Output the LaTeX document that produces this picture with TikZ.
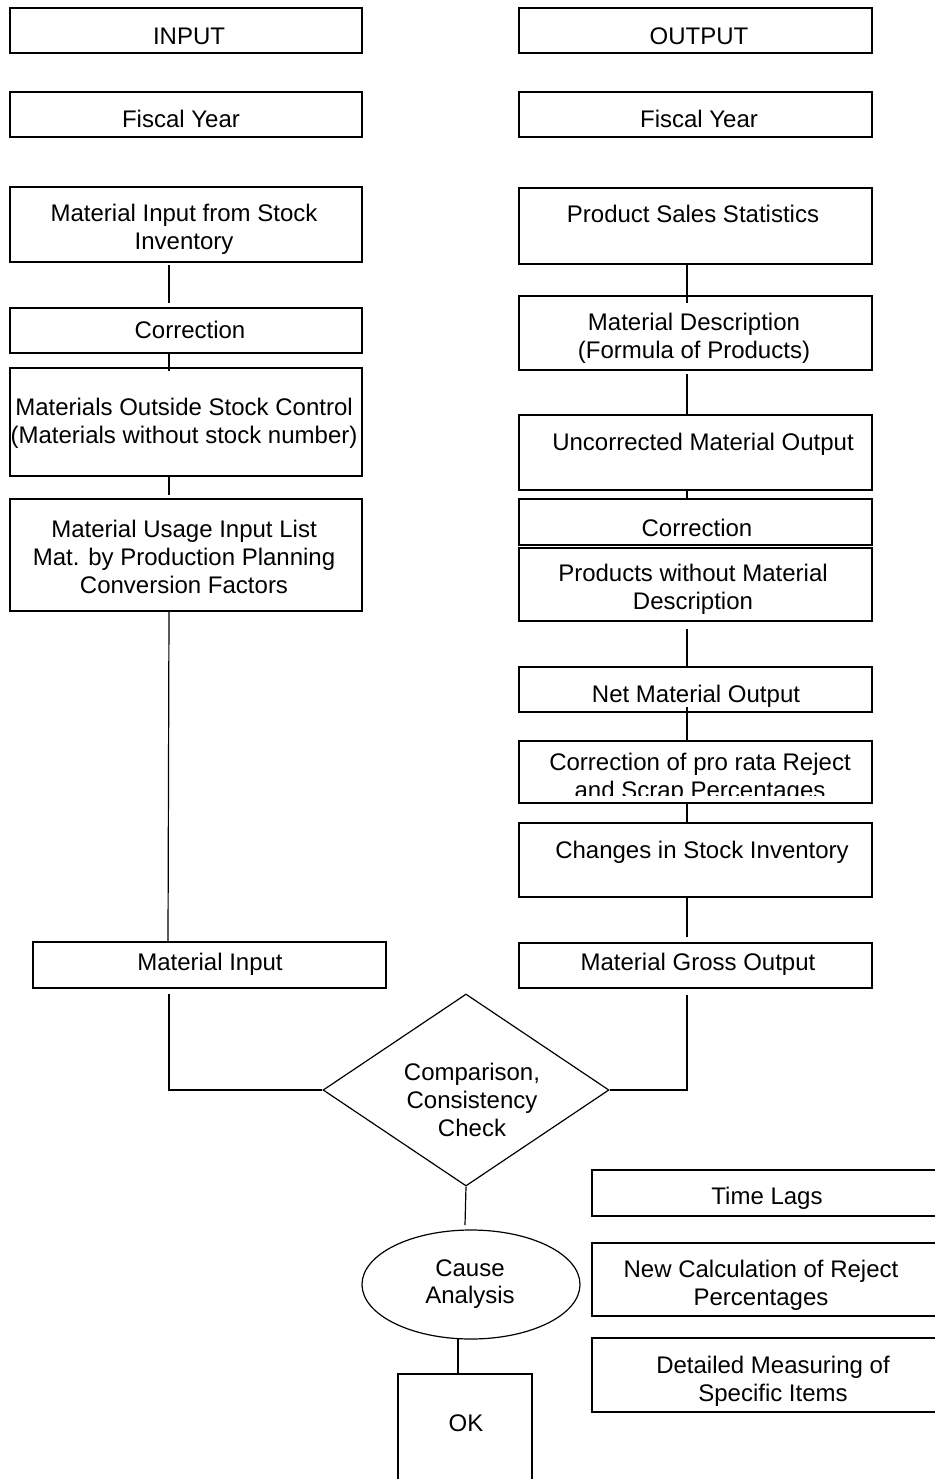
\documentclass[tikz,border=0pt]{standalone}
\usepackage{fontspec}
\setmainfont{Liberation Sans}
\usetikzlibrary{shapes.geometric}
\tikzset{
  box/.style={draw, line width=0.6pt, inner sep=0pt, rectangle},
  txt/.style={inner sep=0pt, align=center, font=\fontsize{12}{13.8}\selectfont},
  conn/.style={draw, line width=0.6pt},
}
\newcommand\boxnode[5]{%
  \pgfmathsetmacro\bw{(#4-#2)*0.5}%
  \pgfmathsetmacro\bh{(#5-#3)*0.5}%
  \node[box, minimum width=\bw pt, minimum height=\bh pt] (#1) at ({(#2+#4)/2},{(#3+#5)/2}) {};}
\begin{document}
\begin{tikzpicture}[x=0.5pt,y=-0.5pt]
\useasboundingbox (0,0) rectangle (935,1479);
\clip (0,0) rectangle (935,1479);
\fill[white] (0,0) rectangle (935,1479);

% ---------- left column ----------
\boxnode{inh}{10}{8}{362}{53}
\node[txt] (inht) at (189,36) {INPUT};
\boxnode{fyl}{10}{92}{362}{137}
\node[txt] (fylt) at (181,119) {Fiscal Year};
\boxnode{mis}{10}{187}{362}{262}
\node[txt] (mist) at (184,229) {Material Input from Stock\\Inventory};
\boxnode{corl}{10}{308}{362}{353}
\node[txt] (corlt) at (190,330) {Correction};
\boxnode{mosc}{10}{368}{362}{476}
\node[txt] (msct) at (184,423) {Materials Outside Stock Control\\(Materials without stock number)};
\boxnode{mui}{10}{499}{362}{611}
\node[txt] (muit) at (184,557) {Material Usage Input List\\Mat. by Production Planning\\Conversion Factors};
\boxnode{mi}{33}{942}{386}{988}
\node[txt] (mit) at (210,964) {Material Input};

% ---------- right column ----------
\boxnode{outh}{519}{8}{872}{53}
\node[txt] (outht) at (699,36) {OUTPUT};
\boxnode{fyr}{519}{92}{872}{137}
\node[txt] (fyrt) at (699,119) {Fiscal Year};
\boxnode{pss}{519}{188}{872}{264}
\node[txt] (psst) at (693,214) {Product Sales Statistics};
\boxnode{md}{519}{296}{872}{370}
\node[txt] (mdt) at (694,338) {Material Description\\(Formula of Products)};
\boxnode{umo}{519}{415}{872}{490}
\node[txt] (umot) at (703,444) {Uncorrected Material Output};
\boxnode{corr}{519}{499}{872}{545}
\node[txt] (corrt) at (697,528) {Correction};
\boxnode{pwmd}{519}{548}{872}{621}
\node[txt] (pwmdt) at (693,589) {Products without Material\\Description};
\boxnode{nmo}{519}{667}{872}{712}
\node[txt] (nmot) at (696,696) {Net Material Output};
\boxnode{cpr}{519}{741}{872}{803}
\begin{scope}
  \clip (519,741) rectangle (872,795);
  \node[txt] (cprt) at (700,778) {Correction of pro rata Reject\\and Scrap Percentages};
\end{scope}
\boxnode{csi}{519}{823}{872}{897}
\node[txt] (csit) at (702,852) {Changes in Stock Inventory};
\boxnode{mgo}{519}{943}{872}{988}
\node[txt] (mgot) at (698,964) {Material Gross Output};

% ---------- comparison ----------
\node[draw, line width=0.6pt, diamond, inner sep=0pt, minimum width=143pt, minimum height=96pt, aspect=1.49] (cmp) at (466,1090) {};
\node[txt] (cmpt) at (472,1100) {Comparison,\\Consistency\\Check};
\node[draw, line width=0.6pt, ellipse, inner sep=0pt, minimum width=109pt, minimum height=54.5pt] (ca) at (471,1284.5) {};
\node[txt] (cat) at (470,1284) {Cause\\Analysis};
\boxnode{ok}{398}{1374}{532}{1510}
\node[txt] (okt) at (466,1423) {OK};

\boxnode{tl}{592}{1170}{942}{1216}
\node[txt] (tlt) at (767,1198) {Time Lags};
\boxnode{ncr}{592}{1243}{942}{1316}
\node[txt] (ncrt) at (761,1285) {New Calculation of Reject\\Percentages};
\boxnode{dms}{592}{1338}{942}{1412}
\node[txt] (dmst) at (773,1381) {Detailed Measuring of\\Specific Items};

% ---------- connectors ----------
\coordinate (l1a) at (169,265); \coordinate (l1b) at (169,303);
\coordinate (l2a) at (169,352); \coordinate (l2b) at (169,371);
\coordinate (l3a) at (169,477); \coordinate (l3b) at (169,495);
\coordinate (l4a) at (169,611); \coordinate (l4b) at (168,942);
\coordinate (l5a) at (169,994); \coordinate (l5b) at (169,1090);
\draw[conn] (l1a) -- (l1b);
\draw[conn] (l2a) -- (l2b);
\draw[conn] (l3a) -- (l3b);
\draw[conn] (l4a) -- (l4b);
\draw[conn] (l5a) -- (l5b) -- (cmp.west);

\coordinate (r1a) at (687,264); \coordinate (r1b) at (687,303);
\coordinate (r2a) at (687,374); \coordinate (r2b) at (687,415);
\coordinate (r3a) at (687,489); \coordinate (r3b) at (687,499);
\coordinate (r4a) at (687,629); \coordinate (r4b) at (687,668);
\coordinate (r5a) at (687,707); \coordinate (r5b) at (687,741);
\coordinate (r6a) at (687,803); \coordinate (r6b) at (687,823);
\coordinate (r7a) at (687,898); \coordinate (r7b) at (687,937);
\coordinate (r8a) at (687,995); \coordinate (r8b) at (687,1090);
\draw[conn] (r1a) -- (r1b);
\draw[conn] (r2a) -- (r2b);
\draw[conn] (r3a) -- (r3b);
\draw[conn] (r4a) -- (r4b);
\draw[conn] (r5a) -- (r5b);
\draw[conn] (r6a) -- (r6b);
\draw[conn] (r7a) -- (r7b);
\draw[conn] (r8a) -- (r8b) -- (cmp.east);

\coordinate (c1) at (465,1225);
\draw[conn] (cmp.south) -- (c1);
\coordinate (c2a) at (458,1339); \coordinate (c2b) at (458,1374);
\draw[conn] (c2a) -- (c2b);
\end{tikzpicture}
\end{document}
